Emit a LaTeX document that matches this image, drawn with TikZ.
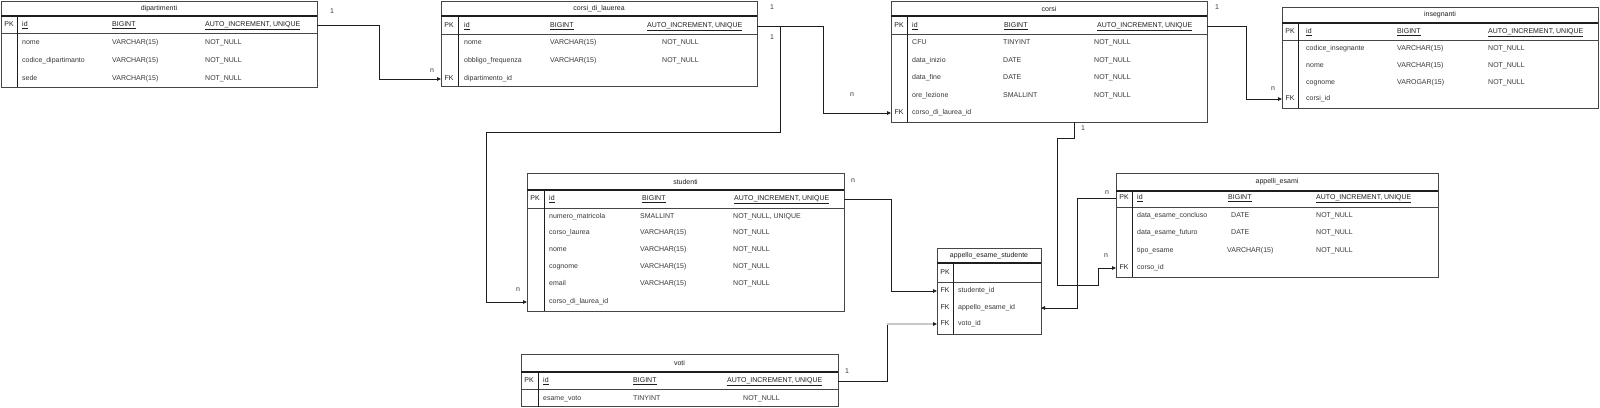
\documentclass[tikz,border=0pt]{standalone}
\usepackage{fontspec}
\setmainfont{Liberation Sans}
\usetikzlibrary{arrows.meta}
\definecolor{ink}{RGB}{30,30,30}
\definecolor{rulec}{RGB}{70,70,70}
\definecolor{txtc}{RGB}{55,55,55}
\definecolor{faint}{RGB}{200,200,200}
\tikzset{
  tblbox/.style={draw=rulec, line width=0.9pt, inner sep=0pt, outer sep=0pt, anchor=north west},
  titlesep/.style={draw=ink, line width=1.4pt},
  headsep/.style={draw=rulec, line width=0.9pt},
  divline/.style={draw=ink, line width=0.9pt},
  cell/.style={anchor=west, inner sep=0pt, text height=5.2pt, text depth=1.6pt, text=txtc, font=\fontsize{7}{8}\selectfont},
  hcell/.style={cell, text=ink},
  keycell/.style={anchor=center, inner sep=0pt, text height=5.2pt, text depth=1.6pt, text=ink, font=\fontsize{7}{8}\selectfont},
  ttl/.style={anchor=center, inner sep=0pt, text=ink, font=\fontsize{7}{8}\selectfont},
  link/.style={draw=ink, line width=0.9pt},
  conn/.style={link, -{Triangle[length=4pt,width=3.6pt,color=ink]}},
  card/.style={anchor=center, inner sep=0pt, text=txtc, font=\fontsize{7}{8}\selectfont},
}
\newcommand\ertbl[9]{%
  \node[tblbox, minimum width={#4-#2}, minimum height={#5-#3}] (#1) at (#2,#3) {};
  \draw[titlesep] (#2,#6) -- (#4,#6);
  \draw[headsep] (#2,#7) -- (#4,#7);
  \draw[divline] (#8,#6) -- (#8,#5);
  \node[ttl] (#1-title) at ({(#2+#4)/2},{(#3+#6)/2}) {#9};
}
\begin{document}
\begin{tikzpicture}[x=1pt,y=-1pt]
\useasboundingbox (0,0) rectangle (1600,407);

% ---------- dipartimenti ----------
\ertbl{dip}{1}{1}{317}{87}{16}{33}{17}{dipartimenti}
\node[keycell] (dip-pk) at (9,25) {PK};
\node[hcell] (dip-id) at (22,25) {\underline{id}};
\node[hcell] (dip-idt) at (112,25) {\underline{BIGINT}};
\node[hcell] (dip-idc) at (205,25) {\underline{AUTO\_INCREMENT, UNIQUE}};
\node[cell] (dip-r1a) at (22,43) {nome};
\node[cell] (dip-r1b) at (112,43) {VARCHAR(15)};
\node[cell] (dip-r1c) at (205,43) {NOT\_NULL};
\node[cell] (dip-r2a) at (22,61) {codice\_dipartimanto};
\node[cell] (dip-r2b) at (112,61) {VARCHAR(15)};
\node[cell] (dip-r2c) at (205,61) {NOT\_NULL};
\node[cell] (dip-r3a) at (22,79) {sede};
\node[cell] (dip-r3b) at (112,79) {VARCHAR(15)};
\node[cell] (dip-r3c) at (205,79) {NOT\_NULL};

% ---------- corsi_di_lauerea ----------
\ertbl{cdl}{441}{1}{757}{86}{16}{34}{458}{corsi\_di\_lauerea}
\node[keycell] (cdl-pk) at (449,26) {PK};
\node[hcell] (cdl-id) at (464,26) {\underline{id}};
\node[hcell] (cdl-idt) at (550,26) {\underline{BIGINT}};
\node[hcell] (cdl-idc) at (647,26) {\underline{AUTO\_INCREMENT, UNIQUE}};
\node[cell] (cdl-r1a) at (464,43) {nome};
\node[cell] (cdl-r1b) at (550,43) {VARCHAR(15)};
\node[cell] (cdl-r1c) at (662,43) {NOT\_NULL};
\node[cell] (cdl-r2a) at (464,61) {obbligo\_frequenza};
\node[cell] (cdl-r2b) at (550,61) {VARCHAR(15)};
\node[cell] (cdl-r2c) at (662,61) {NOT\_NULL};
\node[keycell] (cdl-fk) at (449,79) {FK};
\node[cell] (cdl-r3a) at (464,79) {dipartimento\_id};

% ---------- corsi ----------
\ertbl{corsi}{891}{1}{1207}{122}{16}{34}{907}{corsi}
\node[keycell] (corsi-pk) at (899,26) {PK};
\node[hcell] (corsi-id) at (912,26) {\underline{id}};
\node[hcell] (corsi-idt) at (1004,26) {\underline{BIGINT}};
\node[hcell] (corsi-idc) at (1097,26) {\underline{AUTO\_INCREMENT, UNIQUE}};
\node[cell] (corsi-r1a) at (912,43) {CFU};
\node[cell] (corsi-r1b) at (1003,43) {TINYINT};
\node[cell] (corsi-r1c) at (1094,43) {NOT\_NULL};
\node[cell] (corsi-r2a) at (912,61) {data\_inizio};
\node[cell] (corsi-r2b) at (1003,61) {DATE};
\node[cell] (corsi-r2c) at (1094,61) {NOT\_NULL};
\node[cell] (corsi-r3a) at (912,78) {data\_fine};
\node[cell] (corsi-r3b) at (1003,78) {DATE};
\node[cell] (corsi-r3c) at (1094,78) {NOT\_NULL};
\node[cell] (corsi-r4a) at (912,96) {ore\_lezione};
\node[cell] (corsi-r4b) at (1003,96) {SMALLINT};
\node[cell] (corsi-r4c) at (1094,96) {NOT\_NULL};
\node[keycell] (corsi-fk) at (899,113) {FK};
\node[cell] (corsi-r5a) at (912,113) {corso\_di\_laurea\_id};

% ---------- insegnanti ----------
\ertbl{ins}{1282}{7}{1598}{108}{23}{40}{1298}{insegnanti}
\node[keycell] (ins-pk) at (1290,32) {PK};
\node[hcell] (ins-id) at (1306,32) {\underline{id}};
\node[hcell] (ins-idt) at (1397,32) {\underline{BIGINT}};
\node[hcell] (ins-idc) at (1488,32) {\underline{AUTO\_INCREMENT, UNIQUE}};
\node[cell] (ins-r1a) at (1306,49) {codice\_insegnante};
\node[cell] (ins-r1b) at (1397,49) {VARCHAR(15)};
\node[cell] (ins-r1c) at (1488,49) {NOT\_NULL};
\node[cell] (ins-r2a) at (1306,66) {nome};
\node[cell] (ins-r2b) at (1397,66) {VARCHAR(15)};
\node[cell] (ins-r2c) at (1488,66) {NOT\_NULL};
\node[cell] (ins-r3a) at (1306,83) {cognome};
\node[cell] (ins-r3b) at (1397,83) {VAROGAR(15)};
\node[cell] (ins-r3c) at (1488,83) {NOT\_NULL};
\node[keycell] (ins-fk) at (1290,99) {FK};
\node[cell] (ins-r4a) at (1306,99) {corsi\_id};

% ---------- studenti ----------
\ertbl{stu}{527}{173}{844}{311}{190}{208}{544}{studenti}
\node[keycell] (stu-pk) at (535,199) {PK};
\node[hcell] (stu-id) at (549,199) {\underline{id}};
\node[hcell] (stu-idt) at (642,199) {\underline{BIGINT}};
\node[hcell] (stu-idc) at (734,199) {\underline{AUTO\_INCREMENT, UNIQUE}};
\node[cell] (stu-r1a) at (549,217) {numero\_matricola};
\node[cell] (stu-r1b) at (640,217) {SMALLINT};
\node[cell] (stu-r1c) at (733,217) {NOT\_NULL, UNIQUE};
\node[cell] (stu-r2a) at (549,233) {corso\_laurea};
\node[cell] (stu-r2b) at (640,233) {VARCHAR(15)};
\node[cell] (stu-r2c) at (733,233) {NOT\_NULL};
\node[cell] (stu-r3a) at (549,250) {nome};
\node[cell] (stu-r3b) at (640,250) {VARCHAR(15)};
\node[cell] (stu-r3c) at (733,250) {NOT\_NULL};
\node[cell] (stu-r4a) at (549,267) {cognome};
\node[cell] (stu-r4b) at (640,267) {VARCHAR(15)};
\node[cell] (stu-r4c) at (733,267) {NOT\_NULL};
\node[cell] (stu-r5a) at (549,284) {email};
\node[cell] (stu-r5b) at (640,284) {VARCHAR(15)};
\node[cell] (stu-r5c) at (733,284) {NOT\_NULL};
\node[cell] (stu-cdl) at (549,302) {corso\_di\_laurea\_id};

% ---------- appelli_esami ----------
\ertbl{ae}{1116}{173}{1438}{277}{191}{207}{1132}{appelli\_esami}
\node[keycell] (ae-pk) at (1124,198) {PK};
\node[hcell] (ae-id) at (1137,198) {\underline{id}};
\node[hcell] (ae-idt) at (1228,198) {\underline{BIGINT}};
\node[hcell] (ae-idc) at (1316,198) {\underline{AUTO\_INCREMENT, UNIQUE}};
\node[cell] (ae-r1a) at (1137,216) {data\_esame\_concluso};
\node[cell] (ae-r1b) at (1231,216) {DATE};
\node[cell] (ae-r1c) at (1316,216) {NOT\_NULL};
\node[cell] (ae-r2a) at (1137,233) {data\_esame\_futuro};
\node[cell] (ae-r2b) at (1231,233) {DATE};
\node[cell] (ae-r2c) at (1316,233) {NOT\_NULL};
\node[cell] (ae-r3a) at (1137,251) {tipo\_esame};
\node[cell] (ae-r3b) at (1227,251) {VARCHAR(15)};
\node[cell] (ae-r3c) at (1316,251) {NOT\_NULL};
\node[keycell] (ae-fk) at (1124,268) {FK};
\node[cell] (ae-r4a) at (1137,268) {corso\_id};

% ---------- appello_esame_studente ----------
\ertbl{apst}{937}{248}{1041}{334}{263}{282}{953}{appello\_esame\_studente}
\node[keycell] (apst-pk) at (945,273) {PK};
\node[keycell] (apst-fk1) at (945,291) {FK};
\node[cell] (apst-stu) at (958,291) {studente\_id};
\node[keycell] (apst-fk2) at (945,308) {FK};
\node[cell] (apst-ae) at (958,308) {appello\_esame\_id};
\node[keycell] (apst-fk3) at (945,324) {FK};
\node[cell] (apst-voto) at (958,324) {voto\_id};

% ---------- voti ----------
\ertbl{voti}{521}{354}{838}{406.5}{372}{389}{538}{voti}
\node[keycell] (voti-pk) at (529,381) {PK};
\node[hcell] (voti-id) at (543,381) {\underline{id}};
\node[hcell] (voti-idt) at (633,381) {\underline{BIGINT}};
\node[hcell] (voti-idc) at (727,381) {\underline{AUTO\_INCREMENT, UNIQUE}};
\node[cell] (voti-r1a) at (543,399) {esame\_voto};
\node[cell] (voti-r1b) at (633,399) {TINYINT};
\node[cell] (voti-r1c) at (743,399) {NOT\_NULL};

% ---------- bend points ----------
\coordinate (b1) at (379,0);
\coordinate (b2) at (823,0);
\coordinate (b3a) at (780,132);
\coordinate (b3b) at (486,132);
\coordinate (b4) at (1246,0);
\coordinate (b5a) at (1074,138);
\coordinate (b5b) at (1057,138);
\coordinate (b5c) at (1057,285);
\coordinate (b5d) at (1098,285);
\coordinate (b6) at (1077,0);
\coordinate (b7) at (891,0);
\coordinate (b8) at (887,0);

% ---------- connectors ----------
\draw[conn] (dip.east |- dip-pk) -| (b1 |- cdl-fk) -- (cdl.west |- cdl-fk);
\draw[conn] (cdl.east |- cdl-pk) -| (b2 |- corsi-fk) -- (corsi.west |- corsi-fk);
\draw[conn] (cdl.east |- cdl-pk) -| (b3a) -- (b3b) |- (stu.west |- stu-cdl);
\draw[conn] (corsi.east |- corsi-pk) -| (b4 |- ins-fk) -- (ins.west |- ins-fk);
\draw[conn] (corsi.south -| b5a) -- (b5a) -- (b5b) -- (b5c) -- (b5d) |- (ae.west |- ae-fk);
\draw[conn] (ae.west |- ae-pk) -| (b6 |- apst-ae) -- (apst.east |- apst-ae);
\draw[conn] (stu.east |- stu-pk) -| (b7 |- apst-stu) -- (apst.west |- apst-stu);
\draw[link] (voti.east |- voti-pk) -| (b8 |- apst-voto);
\draw[conn, draw=faint, line width=1.2pt] (b8 |- apst-voto) -- (apst.west |- apst-voto);

% ---------- cardinalities ----------
\node[card] (c1a) at (332,11) {1};
\node[card] (c1b) at (432,71) {n};
\node[card] (c2a) at (772,7) {1};
\node[card] (c2b) at (852,95) {n};
\node[card] (c3a) at (772,37) {1};
\node[card] (c3b) at (518,290) {n};
\node[card] (c4a) at (1217,7) {1};
\node[card] (c4b) at (1273,89) {n};
\node[card] (c5a) at (1083,128) {1};
\node[card] (c5b) at (1106,256) {n};
\node[card] (c6a) at (1107,193) {n};
\node[card] (c7a) at (853,181) {n};
\node[card] (c8a) at (847,371) {1};
\end{tikzpicture}
\end{document}
